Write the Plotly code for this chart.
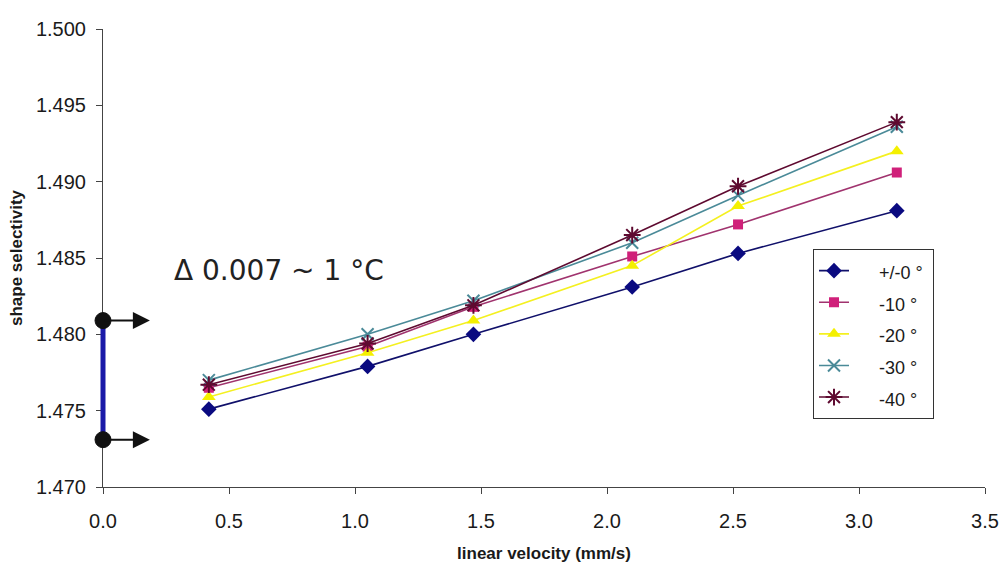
import plotly.graph_objects as go

# ---- data ----
velocity = [0.42, 1.05, 1.47, 2.10, 2.52, 3.15]
series_names = ["+/-0 °", "-10 °", "-20 °", "-30 °", "-40 °"]
sel_0 = [1.4751, 1.4779, 1.4800, 1.4831, 1.4853, 1.4881]
sel_10 = [1.4765, 1.4792, 1.4818, 1.4851, 1.4872, 1.4906]
sel_20 = [1.4759, 1.4788, 1.4809, 1.4845, 1.4884, 1.4920]
sel_30 = [1.4770, 1.4800, 1.4822, 1.4860, 1.4891, 1.4936]
sel_40 = [1.4767, 1.4794, 1.4819, 1.4865, 1.4897, 1.4939]

x_ticks = [0.0, 0.5, 1.0, 1.5, 2.0, 2.5, 3.0, 3.5]
y_ticks = [1.470, 1.475, 1.480, 1.485, 1.490, 1.495, 1.500]

# annotation values (bracket showing delta on y axis)
bracket_y = [1.4731, 1.4809]
arrow_end_x = 0.186
delta_text = "Δ 0.007 ~ 1 °C"
delta_pos = (0.70, 1.4842)

# ---- styles ----
styles = [
    dict(line="#10106a", marker="#0a0a80", symbol="diamond", size=12, mline=0),
    dict(line="#a0336e", marker="#d0207a", symbol="square", size=10, mline=0),
    dict(line="#f4f020", marker="#f4f000", symbol="triangle-up", size=12, mline=0),
    dict(line="#4a8a98", marker="#4a8a98", symbol="x-thin-open", size=12, mline=2),
    dict(line="#5e0a30", marker="#5e0a30", symbol="asterisk-open", size=14, mline=2),
]
all_series = [sel_0, sel_10, sel_20, sel_30, sel_40]

NB = "\u00a0"
fig = go.Figure()
for name, vals, st in zip(series_names, all_series, styles):
    fig.add_trace(go.Scatter(
        x=velocity, y=vals, mode="lines+markers",
        name='<span style="font-size:18px">' + NB * 5 + name + NB * 1 + "</span>",
        line=dict(color=st["line"], width=1.6),
        marker=dict(symbol=st["symbol"], size=st["size"], color=st["marker"],
                    line=dict(color=st["marker"], width=st["mline"])),
    ))

shapes = [
    dict(type="line", xref="paper", yref="y", x0=0, x1=0,
         y0=bracket_y[0], y1=bracket_y[1],
         line=dict(color="#1a1aa8", width=5), layer="above"),
]
for yv in bracket_y:
    shapes.append(dict(type="circle", xref="paper", yref="y",
                       xsizemode="pixel", ysizemode="pixel",
                       xanchor=0, yanchor=yv, x0=-8, x1=8, y0=-8, y1=8,
                       fillcolor="#111111", line=dict(color="#111111", width=1),
                       layer="above"))

annotations = []
for yv in bracket_y:
    annotations.append(dict(
        x=arrow_end_x, y=yv, ax=0, ay=yv, xref="x", yref="y",
        axref="x", ayref="y", text="", showarrow=True,
        arrowhead=2, arrowsize=1.7, arrowwidth=2, arrowcolor="#111111",
        standoff=0, startstandoff=0,
    ))
annotations.append(dict(
    x=delta_pos[0], y=delta_pos[1], xref="x", yref="y", text=delta_text,
    showarrow=False, font=dict(family="DejaVu Sans", size=28, color="#222222"),
))

fig.update_layout(
    width=1003, height=563,
    margin=dict(l=103, r=18, t=29, b=76),
    paper_bgcolor="white", plot_bgcolor="white",
    font=dict(family="Liberation Sans, Arial, sans-serif", color="#1a1a1a"),
    shapes=shapes, annotations=annotations,
    legend=dict(
        x=0.805, y=0.52, xanchor="left", yanchor="top",
        bgcolor="white", bordercolor="#333333", borderwidth=1,
        font=dict(size=22, family="Liberation Sans, Arial, sans-serif", color="#1a1a1a"),
        tracegroupgap=0,
    ),
    xaxis=dict(
        range=[0, 3.5], tickvals=x_ticks, tickformat=".1f", automargin=False,
        showgrid=False, zeroline=False, showline=True, linecolor="#444444", linewidth=1,
        ticks="outside", ticklen=6, tickcolor="#444444",
        tickfont=dict(size=20), ticklabelstandoff=10,
        title=dict(text="<b>linear velocity (mm/s)</b>", font=dict(size=17), standoff=16),
    ),
    yaxis=dict(
        range=[1.470, 1.500], tickvals=y_ticks, tickformat=".3f", automargin=False,
        showgrid=False, zeroline=False, showline=True, linecolor="#444444", linewidth=1,
        ticks="outside", ticklen=6, tickcolor="#444444",
        tickfont=dict(size=20), ticklabelstandoff=6,
        title=dict(text="<b>shape selectivity</b>", font=dict(size=17), standoff=8),
    ),
)

fig.write_html(
    "out.html",
    config={"displayModeBar": False},
    post_script="document.body.style.margin='0';document.body.style.overflow='hidden';",
)
